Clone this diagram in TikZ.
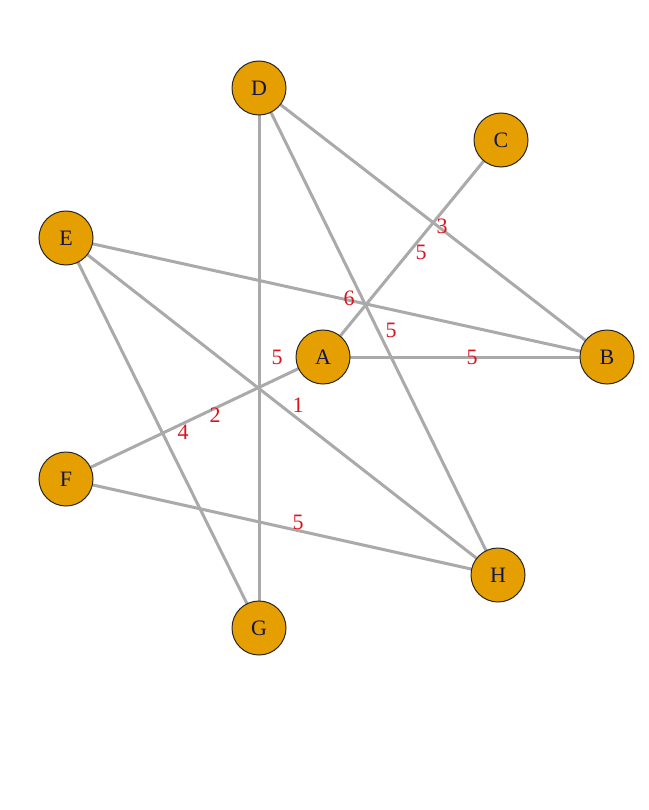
\documentclass[tikz,border=0pt]{standalone}
\usepackage{fontspec}
\setmainfont{Liberation Serif}
\begin{document}
\begin{tikzpicture}[x=1pt,y=-1pt,
  vtx/.style={circle,draw=black!85,line width=1pt,fill={rgb,255:red,230;green,159;blue,0},minimum size=54pt,inner sep=0pt,font=\fontsize{22}{22}\selectfont,text={rgb,255:red,20;green,20;blue,80}},
  edg/.style={draw={rgb,255:red,170;green,170;blue,170},line width=3pt},
  lbl/.style={text={rgb,255:red,220;green,20;blue,30},font=\fontsize{22}{22}\selectfont,inner sep=0pt}]
\useasboundingbox (0,0) rectangle (648,810);
\fill[white] (0,0) rectangle (648,810);
\coordinate (pD) at (259,88); \coordinate (pC) at (501,140); \coordinate (pE) at (66,238);
\coordinate (pA) at (323,357); \coordinate (pB) at (607,357); \coordinate (pF) at (66,479);
\coordinate (pH) at (498,575); \coordinate (pG) at (259,628);
\draw[edg] (pD)--(pG); \draw[edg] (pD)--(pB); \draw[edg] (pD)--(pH);
\draw[edg] (pE)--(pB); \draw[edg] (pE)--(pH); \draw[edg] (pE)--(pG);
\draw[edg] (pA)--(pC); \draw[edg] (pA)--(pB); \draw[edg] (pA)--(pF);
\draw[edg] (pF)--(pH);
\node[vtx] (D) at (pD) {D}; \node[vtx] (C) at (pC) {C}; \node[vtx] (E) at (pE) {E};
\node[vtx] (A) at (pA) {A}; \node[vtx] (B) at (pB) {B}; \node[vtx] (F) at (pF) {F};
\node[vtx] (H) at (pH) {H}; \node[vtx] (G) at (pG) {G};
\node[lbl] (l1) at (442,226) {3};
\node[lbl] (l2) at (421,252) {5};
\node[lbl] (l3) at (349,298) {6};
\node[lbl] (l4) at (391,330) {5};
\node[lbl] (l5) at (472,357) {5};
\node[lbl] (l6) at (277,357) {5};
\node[lbl] (l7) at (298,405) {1};
\node[lbl] (l8) at (215,415) {2};
\node[lbl] (l9) at (183,432) {4};
\node[lbl] (l10) at (298,522) {5};
\end{tikzpicture}
\end{document}
